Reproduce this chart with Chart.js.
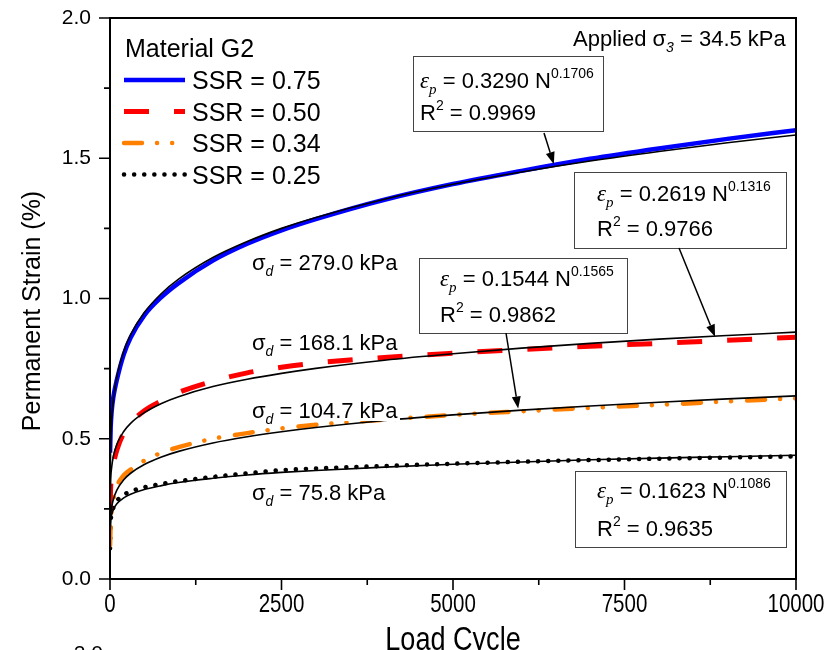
<!DOCTYPE html>
<html>
<head>
<meta charset="utf-8">
<script src="https://cdn.jsdelivr.net/npm/chart.js@4.4.0/dist/chart.umd.min.js"></script>
<style>
  html, body { margin: 0; padding: 0; background: #fff; }
</style>
</head>
<body>
<canvas id="strainChart" width="831" height="650"></canvas>
<script>
const cycles = [1, 10, 25, 50, 100, 200, 300, 500, 750, 1000, 1500, 2000, 2500, 3000, 4000, 5000, 6000, 7000, 8000, 9000, 10000];

// measured permanent strain (%)
const ssr075 = [0.45, 0.54, 0.60, 0.65, 0.71, 0.80, 0.86, 0.94, 1.005, 1.055, 1.135, 1.195, 1.243, 1.283, 1.352, 1.408, 1.455, 1.498, 1.535, 1.569, 1.600];
const ssr050 = [0.25, 0.33, 0.37, 0.41, 0.46, 0.52, 0.555, 0.60, 0.635, 0.665, 0.705, 0.735, 0.755, 0.77, 0.79, 0.805, 0.818, 0.83, 0.84, 0.851, 0.862];
const ssr034 = [0.12, 0.20, 0.245, 0.285, 0.33, 0.37, 0.39, 0.422, 0.45, 0.47, 0.50, 0.52, 0.537, 0.55, 0.568, 0.585, 0.598, 0.61, 0.621, 0.633, 0.644];
const ssr025 = [0.11, 0.20, 0.235, 0.255, 0.278, 0.30, 0.312, 0.327, 0.339, 0.349, 0.364, 0.377, 0.388, 0.394, 0.403, 0.411, 0.418, 0.424, 0.429, 0.433, 0.437];

// fitted curves (black lines)
const fit075 = [0.329, 0.487, 0.570, 0.641, 0.722, 0.812, 0.871, 0.950, 1.018, 1.069, 1.146, 1.203, 1.250, 1.289, 1.354, 1.407, 1.451, 1.490, 1.524, 1.555, 1.583];
const fit050 = [0.262, 0.355, 0.400, 0.438, 0.480, 0.526, 0.555, 0.593, 0.626, 0.650, 0.686, 0.712, 0.733, 0.751, 0.780, 0.803, 0.823, 0.840, 0.855, 0.868, 0.880];
const fit034 = [0.154, 0.221, 0.256, 0.285, 0.317, 0.354, 0.377, 0.408, 0.435, 0.455, 0.485, 0.507, 0.525, 0.540, 0.565, 0.585, 0.602, 0.617, 0.630, 0.642, 0.653];
const fit025 = [0.162, 0.208, 0.230, 0.248, 0.268, 0.289, 0.302, 0.319, 0.333, 0.344, 0.359, 0.371, 0.380, 0.387, 0.399, 0.409, 0.417, 0.425, 0.431, 0.436, 0.441];

const seriesLabels = ["SSR = 0.75", "SSR = 0.50", "SSR = 0.34", "SSR = 0.25"];
const fitEquations = [
    { a: "0.3290", b: "0.1706", r2: "0.9969" },
    { a: "0.2619", b: "0.1316", r2: "0.9766" },
    { a: "0.1544", b: "0.1565", r2: "0.9862" },
    { a: "0.1623", b: "0.1086", r2: "0.9635" }
];
const stressLabels = ["279.0", "168.1", "104.7", "75.8"];
const xTicks = [0, 2500, 5000, 7500, 10000];
const yTicks = [0, 0.5, 1.0, 1.5, 2.0];

const SANS = '"Liberation Sans", Arial, sans-serif';
const SERIF = '"Liberation Serif", "Times New Roman", serif';
const NARROW_SCALE = 0.82; // x-axis text in the figure is set in a condensed face

const toPoints = vals => cycles.map((n, i) => ({ x: n, y: vals[i] }));

function measured(label, vals, color, width, dash, cap) {
    return {
        label, data: toPoints(vals), borderColor: color, borderWidth: width,
        borderDash: dash, borderCapStyle: cap, pointRadius: 0,
        cubicInterpolationMode: "monotone", order: 1
    };
}
function fitted(vals) {
    return {
        label: "fit", data: toPoints(vals), borderColor: "#000", borderWidth: 1.6,
        pointRadius: 0, cubicInterpolationMode: "monotone", order: 0
    };
}

// draw a run of text pieces (sub/superscripts) starting at x, baseline y
function richText(ctx, x, y, parts) {
    parts.forEach(p => {
        ctx.font = (p.italic ? "italic " : "") + (p.size || 22) + "px " + (p.family || SANS);
        ctx.fillText(p.t, x, y + (p.dy || 0));
        x += ctx.measureText(p.t).width;
    });
    return x;
}

function narrowText(ctx, text, cx, cy, size) {
    ctx.save();
    ctx.translate(cx, cy);
    ctx.scale(NARROW_SCALE, 1);
    ctx.font = size + "px " + SANS;
    ctx.textAlign = "center";
    ctx.textBaseline = "middle";
    ctx.fillText(text, 0, 0);
    ctx.restore();
}

function arrow(ctx, x1, y1, x2, y2) {
    const ang = Math.atan2(y2 - y1, x2 - x1);
    const hl = 12, hw = 4.5;
    ctx.beginPath();
    ctx.moveTo(x1, y1);
    ctx.lineTo(x2 - Math.cos(ang) * hl, y2 - Math.sin(ang) * hl);
    ctx.lineWidth = 1.5;
    ctx.strokeStyle = "#000";
    ctx.stroke();
    ctx.beginPath();
    ctx.moveTo(x2, y2);
    ctx.lineTo(x2 - Math.cos(ang) * hl + Math.sin(ang) * hw, y2 - Math.sin(ang) * hl - Math.cos(ang) * hw);
    ctx.lineTo(x2 - Math.cos(ang) * hl - Math.sin(ang) * hw, y2 - Math.sin(ang) * hl + Math.cos(ang) * hw);
    ctx.closePath();
    ctx.fillStyle = "#000";
    ctx.fill();
}

// boxes in pixels, arrow tips in data units
const boxes = [
    { x: 413, y: 56, w: 190, h: 75, tx: 420, l1: 80, l2: 112, from: [544, 133], tip: [6470, 1.479] },
    { x: 574, y: 172, w: 212, h: 76, tx: 597, l1: 193, l2: 228, from: [679, 248], tip: [8820, 0.864] },
    { x: 419, y: 258, w: 208, h: 75, tx: 440, l1: 278, l2: 314, from: [506, 333], tip: [5950, 0.608] },
    { x: 575, y: 471, w: 211, h: 76, tx: 597, l1: 490, l2: 528, from: null, tip: null }
];
const stressLabelPos = [[252, 262], [252, 342], [252, 410], [252, 492]];

const figurePlugin = {
    id: "figure",
    afterDraw(chart) {
        const { ctx, chartArea: a, scales: { x, y } } = chart;
        ctx.save();
        ctx.fillStyle = "#000";
        ctx.strokeStyle = "#000";

        // frame
        ctx.lineWidth = 2;
        ctx.strokeRect(a.left, a.top, a.right - a.left, a.bottom - a.top);

        // tick marks (major + minor), outward
        ctx.lineWidth = 1.6;
        ctx.beginPath();
        for (let v = 0; v <= 10000; v += 1250) {
            const px = x.getPixelForValue(v);
            const len = v % 2500 === 0 ? 11 : 6;
            ctx.moveTo(px, a.bottom); ctx.lineTo(px, a.bottom + len);
        }
        for (let v = 0; v <= 2.0001; v += 0.25) {
            const py = y.getPixelForValue(v);
            const len = Math.round(v * 100) % 50 === 0 ? 11 : 6;
            ctx.moveTo(a.left, py); ctx.lineTo(a.left - len, py);
        }
        ctx.stroke();

        // x tick labels (condensed)
        x.ticks.forEach(t => narrowText(ctx, String(t.value), x.getPixelForValue(t.value), 605, 25));

        // axis titles
        ctx.textBaseline = "middle";
        ctx.textAlign = "center";
        ctx.font = "25px " + SANS;
        ctx.save();
        ctx.translate(33, 311);
        ctx.rotate(-Math.PI / 2);
        ctx.fillText("Permanent Strain (%)", 0, 0);
        ctx.restore();
        narrowText(ctx, "Load Cycle", (a.left + a.right) / 2, 641, 33);

        // fragment of the next panel
        ctx.textAlign = "right";
        ctx.textBaseline = "alphabetic";
        ctx.font = "21px " + SANS;
        ctx.fillText("2.0", 103, 660);
        ctx.textAlign = "left";

        // legend
        ctx.font = "25px " + SANS;
        ctx.fillText("Material G2", 125, 57);
        const measuredSets = chart.data.datasets.filter(d => d.order === 1);
        measuredSets.forEach((d, i) => {
            const cy = 80 + i * 31.5;
            ctx.save();
            ctx.strokeStyle = d.borderColor;
            ctx.lineWidth = d.borderWidth;
            ctx.setLineDash(d.borderDash || []);
            ctx.lineCap = d.borderCapStyle || "butt";
            ctx.beginPath();
            ctx.moveTo(124, cy); ctx.lineTo(185, cy);
            ctx.stroke();
            ctx.restore();
            ctx.font = "25px " + SANS;
            ctx.fillText(d.label, 192, cy + 9);
        });

        // applied confining stress
        richText(ctx, 573, 46, [
            { t: "Applied " }, { t: "σ" }, { t: "3", size: 14, dy: 6, italic: true },
            { t: " = 34.5 kPa" }
        ]);

        // deviator stress labels
        stressLabels.forEach((s, i) => {
            const [lx, ly] = stressLabelPos[i];
            ctx.fillStyle = "#fff";
            ctx.fillRect(lx - 2, ly - 10, 150, 21);
            ctx.fillStyle = "#000";
            richText(ctx, lx, ly + 8, [
                { t: "σ" }, { t: "d", size: 14, dy: 6, italic: true }, { t: " = " + s + " kPa" }
            ]);
        });

        // fit equation boxes
        boxes.forEach((b, i) => {
            const eq = fitEquations[i];
            ctx.fillStyle = "#fff";
            ctx.fillRect(b.x, b.y, b.w, b.h);
            ctx.lineWidth = 1;
            ctx.strokeStyle = "#444";
            ctx.strokeRect(b.x + 0.5, b.y + 0.5, b.w, b.h);
            ctx.fillStyle = "#000";
            richText(ctx, b.tx, b.l1 + 8, [
                { t: "ε", italic: true, family: SERIF, size: 23 },
                { t: "p", italic: true, family: SERIF, size: 15, dy: 6 },
                { t: " = " + eq.a + " N" },
                { t: eq.b, size: 14, dy: -10 }
            ]);
            richText(ctx, b.tx, b.l2 + 8, [
                { t: "R" }, { t: "2", size: 14, dy: -10 }, { t: " = " + eq.r2 }
            ]);
            if (b.tip) {
                arrow(ctx, b.from[0], b.from[1], x.getPixelForValue(b.tip[0]), y.getPixelForValue(b.tip[1]));
            }
        });
        ctx.restore();
    }
};

new Chart(document.getElementById("strainChart"), {
    type: "line",
    data: {
        datasets: [
            measured(seriesLabels[0], ssr075, "#0000ff", 4.5, [], "butt"),
            measured(seriesLabels[1], ssr050, "#ff0000", 5, [25, 25], "butt"),
            measured(seriesLabels[2], ssr034, "#ff8000", 4.5, [18, 15, 0.1, 15, 0.1, 16], "round"),
            measured(seriesLabels[3], ssr025, "#000000", 4.5, [0.1, 10], "round"),
            fitted(fit075), fitted(fit050), fitted(fit034), fitted(fit025)
        ]
    },
    options: {
        responsive: false,
        animation: false,
        layout: { padding: { left: 0, top: 18, right: 35, bottom: 0 } },
        plugins: { legend: { display: false }, tooltip: { enabled: false } },
        scales: {
            x: {
                type: "linear", min: 0, max: 10000,
                afterBuildTicks: s => { s.ticks = xTicks.map(v => ({ value: v })); },
                ticks: { display: false },
                grid: { display: false },
                border: { display: false },
                afterFit: s => { s.height = 71; s.paddingLeft = 0; s.paddingRight = 0; }
            },
            y: {
                type: "linear", min: 0, max: 2,
                afterBuildTicks: s => { s.ticks = yTicks.map(v => ({ value: v })); },
                ticks: { callback: v => v.toFixed(1), font: { family: SANS, size: 21 }, color: "#000", padding: 11 },
                grid: { display: false },
                border: { display: false },
                afterFit: s => { s.width = 110; s.paddingTop = 0; s.paddingBottom = 0; }
            }
        }
    },
    plugins: [figurePlugin]
});
</script>
</body>
</html>
